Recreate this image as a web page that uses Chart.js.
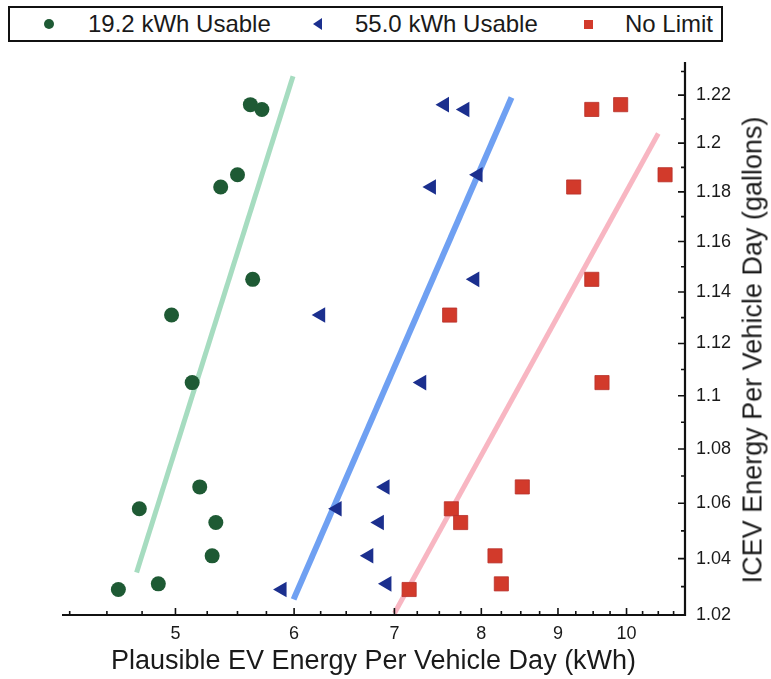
<!DOCTYPE html>
<html><head><meta charset="utf-8">
<script src="https://cdn.jsdelivr.net/npm/chart.js@4.4.0/dist/chart.umd.min.js"></script>
<style>
html,body{margin:0;padding:0;background:#fff;}
#wrap{position:relative;width:771px;height:679px;font-family:"Liberation Sans",Arial,sans-serif;color:#1a1a1a;overflow:hidden;}
canvas{position:absolute;left:0;top:0;}
#legend{position:absolute;left:8px;top:6px;width:715px;height:36px;border:2px solid #111;box-sizing:border-box;background:#fff;}
.item{position:absolute;top:0;height:32px;line-height:32px;font-size:24px;white-space:nowrap;}
.mk{position:absolute;}
#ytitle{position:absolute;font-size:27px;white-space:nowrap;left:753px;top:350px;transform:translate(-50%,-50%) rotate(-90deg);}
</style></head>
<body>
<div id="wrap">
  <canvas id="c" width="771" height="679"></canvas>
  <div id="legend">
    <div class="mk" style="left:34px;top:11px;width:10px;height:10px;border-radius:50%;background:#1e5a34;"></div>
    <div class="item" id="l1" style="left:78px;"></div>
    <div class="mk" style="left:303px;top:10px;width:0;height:0;border-top:6px solid transparent;border-bottom:6px solid transparent;border-right:9px solid #1b2f8e;"></div>
    <div class="item" id="l2" style="left:345px;"></div>
    <div class="mk" style="left:574px;top:12px;width:9px;height:9px;background:#d23a2b;"></div>
    <div class="item" id="l3" style="left:615px;"></div>
  </div>
  <div id="ytitle"></div>
</div>
<script>
// ---- data ----
const seriesNames = ['19.2 kWh Usable', '55.0 kWh Usable', 'No Limit'];
const icevGallons = [1.216, 1.214, 1.187, 1.182, 1.145, 1.131, 1.105, 1.066, 1.058, 1.053, 1.041, 1.031, 1.029];
const ev19kWh     = [5.61, 5.71, 5.50, 5.36, 5.63, 4.97, 5.13, 5.19, 4.73, 5.32, 5.29, 4.87, 4.58];
const ev55kWh     = [7.56, 7.80, 7.96, 7.41, 7.92, 6.25, 7.30, 6.90, 6.41, 6.84, 6.73, 6.92, 5.89];
const evNoLimit   = [9.91, 9.48, 10.61, 9.22, 9.48, 7.62, 9.63, 8.52, 7.64, 7.75, 8.17, 8.25, 7.16];
const fit19X = [4.71, 5.99],  fit19Y = [1.035, 1.228];
const fit55X = [5.995, 8.38], fit55Y = [1.0255, 1.219];
const fitNoX = [7.0, 10.50],  fitNoY = [1.0206, 1.204];
const xMajorTicks = [5, 6, 7, 8, 9, 10];
const xTickLabels = ['5', '6', '7', '8', '9', '10'];
const yMajorTicks = [1.02, 1.04, 1.06, 1.08, 1.10, 1.12, 1.14, 1.16, 1.18, 1.20, 1.22];
const yTickLabels = ['1.02', '1.04', '1.06', '1.08', '1.1', '1.12', '1.14', '1.16', '1.18', '1.2', '1.22'];
const xTitle = 'Plausible EV Energy Per Vehicle Day (kWh)';
const yTitle = 'ICEV Energy Per Vehicle Day (gallons)';

const xMinorTicks = [];
for (let k = 17; k <= 43; k++) { const v = k * 0.25; if (v % 1 !== 0) xMinorTicks.push(v); }
const yMinorTicks = [];
for (let k = 0; k <= 10; k++) yMinorTicks.push(+(1.03 + 0.02 * k).toFixed(2));

document.getElementById('l1').textContent = seriesNames[0];
document.getElementById('l2').textContent = seriesNames[1];
document.getElementById('l3').textContent = seriesNames[2];
document.getElementById('ytitle').textContent = yTitle;

const FAM = '"Liberation Sans", Arial, sans-serif';
const pts = (xs, ys) => xs.map((x, i) => ({x: x, y: ys[i]}));

const axisPlugin = {
  id: 'axesInward',
  afterDatasetsDraw(chart) {
    const {ctx, chartArea: a, scales: {x, y}} = chart;
    ctx.save();
    ctx.strokeStyle = '#111';
    ctx.lineWidth = 1.6;
    ctx.beginPath();
    xMajorTicks.forEach(v => { const p = x.getPixelForValue(v); ctx.moveTo(p, a.bottom); ctx.lineTo(p, a.bottom - 7); });
    xMinorTicks.forEach(v => { const p = x.getPixelForValue(v); ctx.moveTo(p, a.bottom); ctx.lineTo(p, a.bottom - 4); });
    yMajorTicks.forEach(v => { const p = y.getPixelForValue(v); ctx.moveTo(a.right, p); ctx.lineTo(a.right - 7, p); });
    yMinorTicks.forEach(v => { const p = y.getPixelForValue(v); ctx.moveTo(a.right, p); ctx.lineTo(a.right - 4, p); });
    ctx.stroke();
    ctx.lineWidth = 2.2;
    ctx.beginPath();
    ctx.moveTo(a.left, a.bottom); ctx.lineTo(a.right + 1, a.bottom);
    ctx.moveTo(a.right, a.bottom + 1); ctx.lineTo(a.right, a.top);
    ctx.stroke();
    ctx.restore();
  }
};

new Chart(document.getElementById('c'), {
  type: 'scatter',
  data: {
    datasets: [
      {label: seriesNames[0], data: pts(ev19kWh, icevGallons), pointStyle: 'circle', pointRadius: 7.5,
       backgroundColor: '#1e5a34', borderColor: '#1e5a34', borderWidth: 0, order: 1},
      {label: seriesNames[1], data: pts(ev55kWh, icevGallons), pointStyle: 'triangle', rotation: -90, pointRadius: 9,
       backgroundColor: '#1b2f8e', borderColor: '#1b2f8e', borderWidth: 0, order: 1},
      {label: seriesNames[2], data: pts(evNoLimit, icevGallons), pointStyle: 'rect', pointRadius: 10,
       backgroundColor: '#d23a2b', borderColor: '#b8302a', borderWidth: 0.8, order: 1},
      {label: 'fit19', data: pts(fit19X, fit19Y), showLine: true, pointRadius: 0, borderColor: '#a6dcc0', borderWidth: 5, order: 2},
      {label: 'fit55', data: pts(fit55X, fit55Y), showLine: true, pointRadius: 0, borderColor: '#6fa0f2', borderWidth: 6, order: 2},
      {label: 'fitNo', data: pts(fitNoX, fitNoY), showLine: true, pointRadius: 0, borderColor: '#f8b6c2', borderWidth: 5, order: 2}
    ]
  },
  options: {
    responsive: false,
    animation: false,
    devicePixelRatio: 1,
    layout: {padding: {left: 62, top: 62, right: 0, bottom: 0}},
    plugins: {legend: {display: false}, tooltip: {enabled: false}},
    scales: {
      x: {
        type: 'logarithmic', position: 'bottom', min: 4.2, max: 10.94,
        afterBuildTicks: s => { s.ticks = xMajorTicks.map(v => ({value: v})); },
        afterFit: s => { s.height = 64; },
        grid: {display: false, drawTicks: false}, border: {display: false},
        ticks: {autoSkip: false, maxRotation: 0, minRotation: 0, padding: 8, color: '#1a1a1a',
                font: {size: 18, family: FAM}, callback: (v, i) => xTickLabels[i]},
        title: {display: true, text: xTitle, color: '#1a1a1a', font: {size: 27, family: FAM}, padding: {top: 0, bottom: 1}}
      },
      y: {
        type: 'logarithmic', position: 'right', min: 1.02, max: 1.234,
        afterBuildTicks: s => { s.ticks = yMajorTicks.map(v => ({value: v})); },
        afterFit: s => { s.width = 86; },
        grid: {display: false, drawTicks: false}, border: {display: false},
        ticks: {autoSkip: false, padding: 11, color: '#1a1a1a',
                font: {size: 18, family: FAM}, callback: (v, i) => yTickLabels[i]},
        title: {display: false}
      }
    }
  },
  plugins: [axisPlugin]
});
</script>
</body></html>
